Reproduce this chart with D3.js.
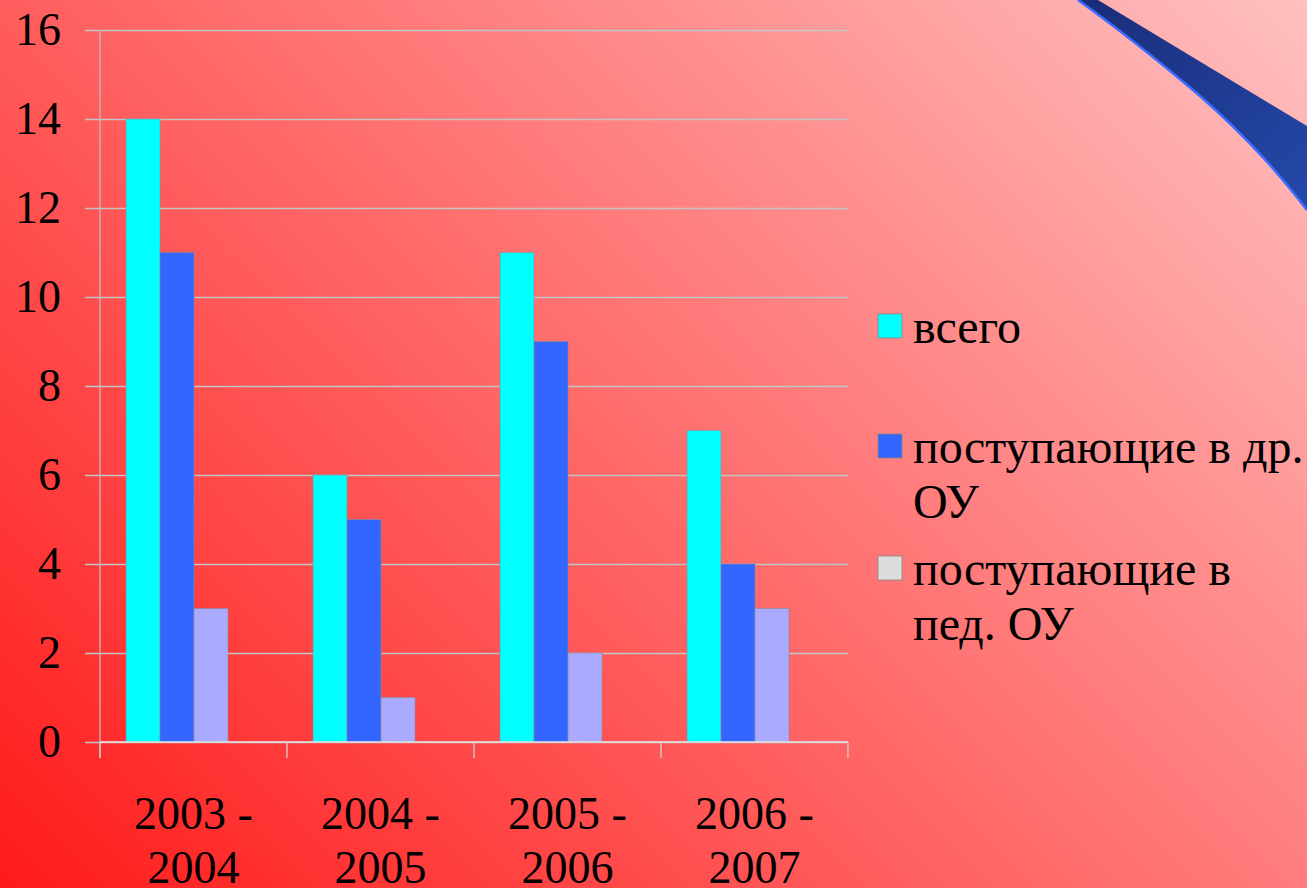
<!DOCTYPE html>
<html>
<head>
<meta charset="utf-8">
<script src="https://cdn.jsdelivr.net/npm/d3@7"></script>
<style>
  html, body { margin: 0; padding: 0; overflow: hidden; }
  svg { display: block; }
  svg text { font-family: "Liberation Serif", "Times New Roman", serif; }
</style>
</head>
<body>
<svg id="chart" width="1307" height="888"></svg>
<script>
const categories = ["2003 - 2004", "2004 - 2005", "2005 - 2006", "2006 - 2007"];
const seriesNames = ["всего", "поступающие в др. ОУ", "поступающие в пед. ОУ"];
const vsego = [14, 6, 11, 7];
const drOU = [11, 5, 9, 4];
const pedOU = [3, 1, 2, 3];
const yTicks = [0, 2, 4, 6, 8, 10, 12, 14, 16];

const values = [vsego, drOU, pedOU];
const barColors = ["#00ffff", "#3366ff", "#aaaaff"];
const swatchColors = ["#00ffff", "#3366ff", "#dddddd"];
const legendLines = [["всего"], ["поступающие в др.", "ОУ"], ["поступающие в", "пед. ОУ"]];

const W = 1307, H = 888;
const svg = d3.select("#chart");
const defs = svg.append("defs");

// background gradient, bright red bottom-left to pale pink top-right
const bg = defs.append("linearGradient").attr("id", "bg")
  .attr("gradientUnits", "userSpaceOnUse")
  .attr("x1", 0).attr("y1", H).attr("x2", W * 0.85).attr("y2", -H * 0.25);
bg.append("stop").attr("offset", "0%").attr("stop-color", "#ff1a1a");
bg.append("stop").attr("offset", "100%").attr("stop-color", "#ffc2c2");
svg.append("rect").attr("width", W).attr("height", H).attr("fill", "url(#bg)");

// blue swoosh in the corner
const sw = defs.append("linearGradient").attr("id", "sw")
  .attr("x1", 0).attr("y1", 0).attr("x2", 1).attr("y2", 1);
sw.append("stop").attr("offset", "0%").attr("stop-color", "#1a2c78");
sw.append("stop").attr("offset", "100%").attr("stop-color", "#2449aa");
svg.append("path")
  .attr("d", "M1078,0 L1098,0 L1307,126 L1307,210 C1280,175 1250,140 1200,96 C1160,62 1120,30 1078,0 Z")
  .attr("fill", "url(#sw)");
svg.append("path")
  .attr("d", "M1307,210 C1280,175 1250,140 1200,96 C1160,62 1120,30 1078,0")
  .attr("fill", "none").attr("stroke", "#3a6cff").attr("stroke-width", 2.5);

const plotLeft = 100, plotRight = 848, plotTop = 30, plotBottom = 742;

const y = d3.scaleLinear().domain([0, 16]).range([plotBottom, plotTop]);
const x0 = d3.scaleBand().domain(categories).range([plotLeft, plotRight])
  .paddingInner(0.4545).paddingOuter(0.2273).align(0.306);
const x1 = d3.scaleBand().domain(d3.range(seriesNames.length)).range([0, x0.bandwidth()]);

// y axis with grid lines
const yAxis = svg.append("g").attr("transform", `translate(85,0)`)
  .call(d3.axisLeft(y).tickValues(yTicks).tickSize(-(plotRight - 85)).tickPadding(24));
yAxis.attr("font-family", null);
yAxis.select(".domain").remove();
yAxis.selectAll(".tick line").attr("stroke", "#c4c4c4").attr("stroke-width", 1.3);
yAxis.selectAll(".tick text").attr("fill", "#000").attr("font-size", 46);

// bars
const groups = svg.append("g").selectAll("g").data(categories).join("g")
  .attr("transform", (d) => `translate(${x0(d)},0)`);
groups.selectAll("rect")
  .data((d, i) => values.map((s, k) => ({ k, v: s[i] })))
  .join("rect")
  .attr("x", (d) => x1(d.k))
  .attr("width", x1.bandwidth())
  .attr("y", (d) => y(d.v))
  .attr("height", (d) => y(0) - y(d.v))
  .attr("fill", (d) => barColors[d.k])
  .attr("stroke", "#8a8a9a").attr("stroke-width", 0.6);

// axis lines
svg.append("line").attr("x1", plotLeft).attr("x2", plotLeft).attr("y1", plotTop).attr("y2", plotBottom + 16)
  .attr("stroke", "#bdbdbd").attr("stroke-width", 1.3);
svg.append("line").attr("x1", plotLeft).attr("x2", plotRight).attr("y1", plotBottom).attr("y2", plotBottom)
  .attr("stroke", "#e6e6e6").attr("stroke-width", 1.5);
const bounds = d3.range(categories.length + 1).map((i) => plotLeft + i * x0.step());
svg.append("g").selectAll("line").data(bounds).join("line")
  .attr("x1", (d) => d).attr("x2", (d) => d)
  .attr("y1", plotBottom).attr("y2", plotBottom + 16)
  .attr("stroke", "#d0d0d0").attr("stroke-width", 1.3);

// category labels on two lines
const xl = svg.append("g").selectAll("text").data(categories).join("text")
  .attr("text-anchor", "middle")
  .attr("font-size", 46).attr("fill", "#000")
  .attr("x", (d) => plotLeft + (categories.indexOf(d) + 0.5) * x0.step());
xl.selectAll("tspan")
  .data((d) => { const p = d.split(" - "); return [p[0] + " -", p[1]]; })
  .join("tspan")
  .attr("x", function () { return this.parentNode.getAttribute("x"); })
  .attr("y", (d, i) => 829 + i * 54)
  .text((d) => d);

// legend
const legendY = [343, 463, 585];
const leg = svg.append("g").selectAll("g").data(seriesNames).join("g");
leg.append("rect")
  .attr("x", 878).attr("y", (d, i) => legendY[i] - 29)
  .attr("width", 24).attr("height", 24)
  .attr("fill", (d, i) => swatchColors[i])
  .attr("stroke", "#888").attr("stroke-width", 0.8);
leg.append("text")
  .attr("font-size", 48).attr("fill", "#000")
  .selectAll("tspan").data((d, i) => legendLines[i].map((t) => ({ t, i })))
  .join("tspan")
  .attr("x", 913)
  .attr("y", (d, j) => legendY[d.i] + j * 55)
  .text((d) => d.t);
</script>
</body>
</html>
